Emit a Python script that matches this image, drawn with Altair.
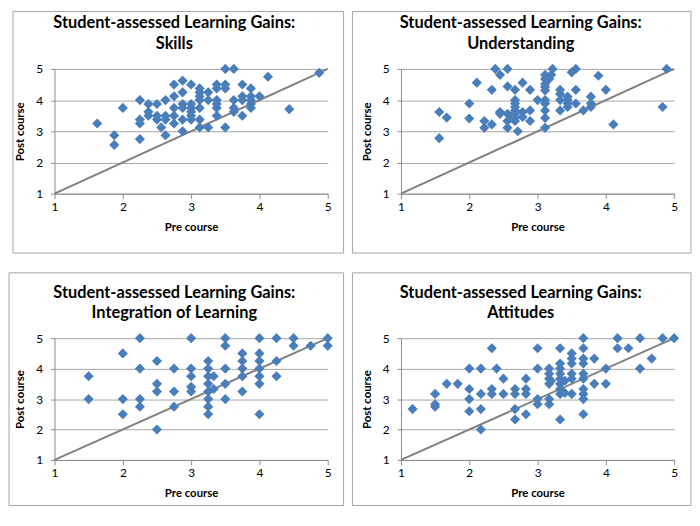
import altair as alt
import pandas as pd

# ---------------- data ----------------
skills_pre = [1.625, 2.0, 1.875, 1.875,
              2.25, 2.25, 2.25, 2.25,
              2.375, 2.375, 2.375,
              2.5, 2.5, 2.5,
              2.625, 2.625, 2.625, 2.625, 2.5625,
              2.75, 2.75, 2.75, 2.75, 2.75,
              2.875, 2.875, 2.875, 2.875, 2.875, 2.875,
              3.0, 3.0, 3.0, 3.0, 3.0, 3.0,
              3.125, 3.125, 3.125, 3.125, 3.125, 3.125, 3.125,
              3.25, 3.25, 3.25,
              3.375, 3.375, 3.375, 3.375, 3.375, 3.375,
              3.5, 3.5, 3.5, 3.5,
              3.625, 3.625, 3.625, 3.625,
              3.75, 3.75, 3.75, 3.75,
              3.875, 3.875, 3.875, 3.875, 3.875,
              4.0, 4.125, 4.4375, 4.875]
skills_post = [3.25, 3.75, 2.875, 2.5625,
               4.0, 3.375, 3.25, 2.75,
               3.875, 3.625, 3.5,
               3.875, 3.5, 3.375,
               4.0, 3.5, 3.375, 2.875, 3.125,
               4.5, 4.125, 3.75, 3.5, 3.25,
               4.625, 4.25, 3.875, 3.75, 3.375, 3.0,
               4.5, 3.875, 3.75, 3.625, 3.5, 3.375,
               4.375, 4.25, 4.125, 4.0, 3.75, 3.375, 3.125,
               4.25, 4.0, 3.125,
               4.5, 4.375, 4.0, 3.875, 3.75, 3.5,
               5.0, 4.5, 4.375, 3.125,
               5.0, 4.0, 3.75, 3.625,
               4.5, 4.125, 4.0, 3.5,
               4.375, 4.125, 4.0, 3.875, 3.75,
               4.125, 4.75, 3.71, 4.875]

under_pre = [1.56, 1.67, 1.56,
             2.0, 2.0, 2.11, 2.22, 2.22, 2.33, 2.33,
             2.38, 2.45, 2.45, 2.45,
             2.56, 2.56, 2.56, 2.56, 2.56,
             2.67, 2.67, 2.67, 2.67, 2.67, 2.67, 2.67, 2.67, 2.62,
             2.71, 2.78, 2.78, 2.78, 2.89, 2.89, 2.89, 3.0,
             3.11, 3.11, 3.11, 3.11, 3.11, 3.11, 3.11, 3.11, 3.11, 3.11,
             3.17, 3.2, 3.22,
             3.33, 3.33, 3.33, 3.33,
             3.44, 3.44, 3.44, 3.44,
             3.5, 3.56, 3.56, 3.56, 3.67,
             3.78, 3.78, 3.78,
             3.89, 4.0, 4.11, 4.83, 4.89]
under_post = [3.62, 3.44, 2.78,
              3.89, 3.41, 4.56, 3.33, 3.11, 4.33, 3.22,
              5.0, 4.81, 3.62, 3.56,
              5.0, 4.44, 3.56, 3.33, 3.11,
              4.33, 4.0, 3.89, 3.78, 3.67, 3.56, 3.44, 3.33, 3.5,
              3.0, 4.56, 3.62, 3.46, 4.33, 3.67, 3.33, 4.0,
              4.81, 4.68, 4.52, 4.42, 4.31, 4.0, 3.89, 3.67, 3.43, 3.11,
              4.68, 4.81, 5.0,
              4.33, 4.2, 4.0, 3.67,
              4.11, 4.0, 3.89, 3.78,
              4.89, 5.0, 4.33, 3.89, 3.67,
              4.11, 3.89, 3.78,
              4.78, 4.33, 3.22, 3.78, 5.0]

integ_pre = [1.5, 1.5,
             2.0, 2.0, 2.0,
             2.25, 2.25, 2.25, 2.25,
             2.5, 2.5, 2.5, 2.5,
             2.75, 2.75, 2.75,
             3.0, 3.0, 3.0, 3.0, 3.0,
             3.25, 3.25, 3.25, 3.25, 3.25, 3.25, 3.25, 3.25,
             3.33, 3.33,
             3.5, 3.5, 3.5, 3.5, 3.5,
             3.75, 3.75, 3.75, 3.75, 3.75,
             4.0, 4.0, 4.0, 4.0, 4.0, 4.0, 4.0,
             4.25, 4.25, 4.25,
             4.5, 4.5, 4.75, 5.0, 5.0]
integ_post = [3.75, 3.0,
              4.5, 3.0, 2.5,
              5.0, 4.0, 3.0, 2.75,
              4.25, 3.5, 3.25, 2.0,
              4.0, 3.25, 2.75,
              5.0, 4.0, 3.75, 3.4, 3.25,
              4.25, 4.0, 3.75, 3.5, 3.25, 3.0, 2.75, 2.5,
              3.75, 3.33,
              5.0, 4.75, 4.0, 3.5, 3.0,
              4.5, 4.25, 4.0, 3.75, 3.25,
              5.0, 4.5, 4.25, 4.0, 3.75, 3.5, 2.5,
              5.0, 4.25, 3.75,
              5.0, 4.75, 4.75, 5.0, 4.75]

att_pre = [1.17, 1.5, 1.5, 1.5, 1.67, 1.83,
           2.0, 2.0, 2.0, 2.0,
           2.17, 2.17, 2.17, 2.17,
           2.33, 2.33, 2.33, 2.4,
           2.5, 2.5,
           2.67, 2.67, 2.67, 2.67,
           2.83, 2.83, 2.83, 2.83,
           3.0, 3.0, 3.0, 3.0,
           3.17, 3.17, 3.17, 3.17, 3.17, 3.17,
           3.2,
           3.33, 3.33, 3.33, 3.33, 3.33, 3.33, 3.33, 3.33, 3.33,
           3.4, 3.4,
           3.5, 3.5, 3.5, 3.5, 3.5, 3.5,
           3.67, 3.67, 3.67, 3.67, 3.67, 3.67, 3.67, 3.67, 3.67, 3.67,
           3.83, 3.83, 4.0, 4.0,
           4.17, 4.17, 4.33, 4.5, 4.5, 4.67, 4.83, 5.0]
att_post = [2.67, 3.17, 2.83, 2.75, 3.5, 3.5,
            4.0, 3.33, 3.0, 2.6,
            4.0, 3.17, 2.67, 2.0,
            4.67, 3.33, 3.17, 4.0,
            3.67, 3.17,
            3.33, 3.17, 2.67, 2.33,
            3.67, 3.33, 3.17, 2.5,
            4.67, 4.0, 3.0, 2.83,
            4.0, 3.83, 3.67, 3.5, 3.0, 2.83,
            3.6,
            4.67, 4.17, 4.0, 3.83, 3.67, 3.5, 3.33, 3.17, 2.33,
            3.6, 3.2,
            4.5, 4.33, 4.17, 3.83, 3.67, 3.17,
            5.0, 4.67, 4.33, 4.17, 3.83, 3.67, 3.33, 3.17, 3.0, 2.5,
            4.33, 3.5, 4.0, 3.5,
            5.0, 4.67, 4.67, 5.0, 4.0, 4.33, 5.0, 5.0]

ticks = [1, 2, 3, 4, 5]
diag = [1, 5]
title_line1 = "Student-assessed Learning Gains:"
subtitles = ["Skills", "Understanding", "Integration of Learning", "Attitudes"]

FONT = "Lato"
W, H1, H2 = 276, 126, 123


def panel(sub, pre, post, h, frame):
    df = pd.DataFrame({"pre": pre, "post": post})
    ref = pd.DataFrame({"pre": diag, "post": diag})
    one = pd.DataFrame({"k": [0]})
    xs = alt.Scale(domain=[1, 5], nice=False, zero=False)
    ys = alt.Scale(domain=[1, 5], nice=False, zero=False)
    xax = alt.Axis(values=ticks, title="Pre course", grid=False, tickSize=5,
                   labelPadding=3, titlePadding=9, labelFlush=False)
    yax = alt.Axis(values=ticks, title="Post course", grid=True, tickSize=4,
                   labelPadding=8, titlePadding=10)
    x = alt.X("pre:Q", scale=xs, axis=xax)
    y = alt.Y("post:Q", scale=ys, axis=yax)
    box = alt.Chart(one).mark_rect(
        fill="white", fillOpacity=0, stroke="#a6a6a6", strokeWidth=1
    ).encode(x=alt.value(frame[0]), x2=alt.value(W + frame[1]),
             y=alt.value(frame[2]), y2=alt.value(h + frame[3]))
    t_style = dict(font=FONT, fontSize=16.5, fontWeight="bold", color="black",
                   align="center", baseline="alphabetic")
    t1 = alt.Chart(one).mark_text(**t_style).encode(
        x=alt.value(121), y=alt.value(-41), text=alt.value(title_line1))
    t2 = alt.Chart(one).mark_text(**t_style).encode(
        x=alt.value(121), y=alt.value(-20), text=alt.value(sub))
    line = alt.Chart(ref).mark_line(color="#808080", strokeWidth=2).encode(x=x, y=y)
    pts = alt.Chart(df).mark_point(shape="diamond", filled=True, size=105,
                                   color="#4a7ebb", opacity=1).encode(x=x, y=y)
    return alt.layer(box, t1, t2, line, pts).properties(width=W, height=h)


p1 = panel(subtitles[0], skills_pre, skills_post, H1, (-42, 16, -58, 60))
p2 = panel(subtitles[1], under_pre, under_post, H1, (-49, 17, -58, 60))
p3 = panel(subtitles[2], integ_pre, integ_post, H2, (-46, 16, -66, 46))
p4 = panel(subtitles[3], att_pre, att_post, H2, (-49, 17, -66, 46))

chart = alt.concat(p1, p2, p3, p4, columns=2,
                   spacing={"row": 146, "column": 74}, bounds="flush").properties(
    padding=0
).configure_view(stroke=None).configure_axis(
    labelFont=FONT, labelFontSize=12, labelColor="black",
    titleFont=FONT, titleFontSize=11.5, titleFontWeight="bold", titleColor="black",
    domainColor="#8c8c8c", tickColor="#8c8c8c", gridColor="#a6a6a6",
    domainWidth=1, tickWidth=1, gridWidth=1
)

chart.save("out.html", embed_options={"renderer": "svg", "actions": False})
